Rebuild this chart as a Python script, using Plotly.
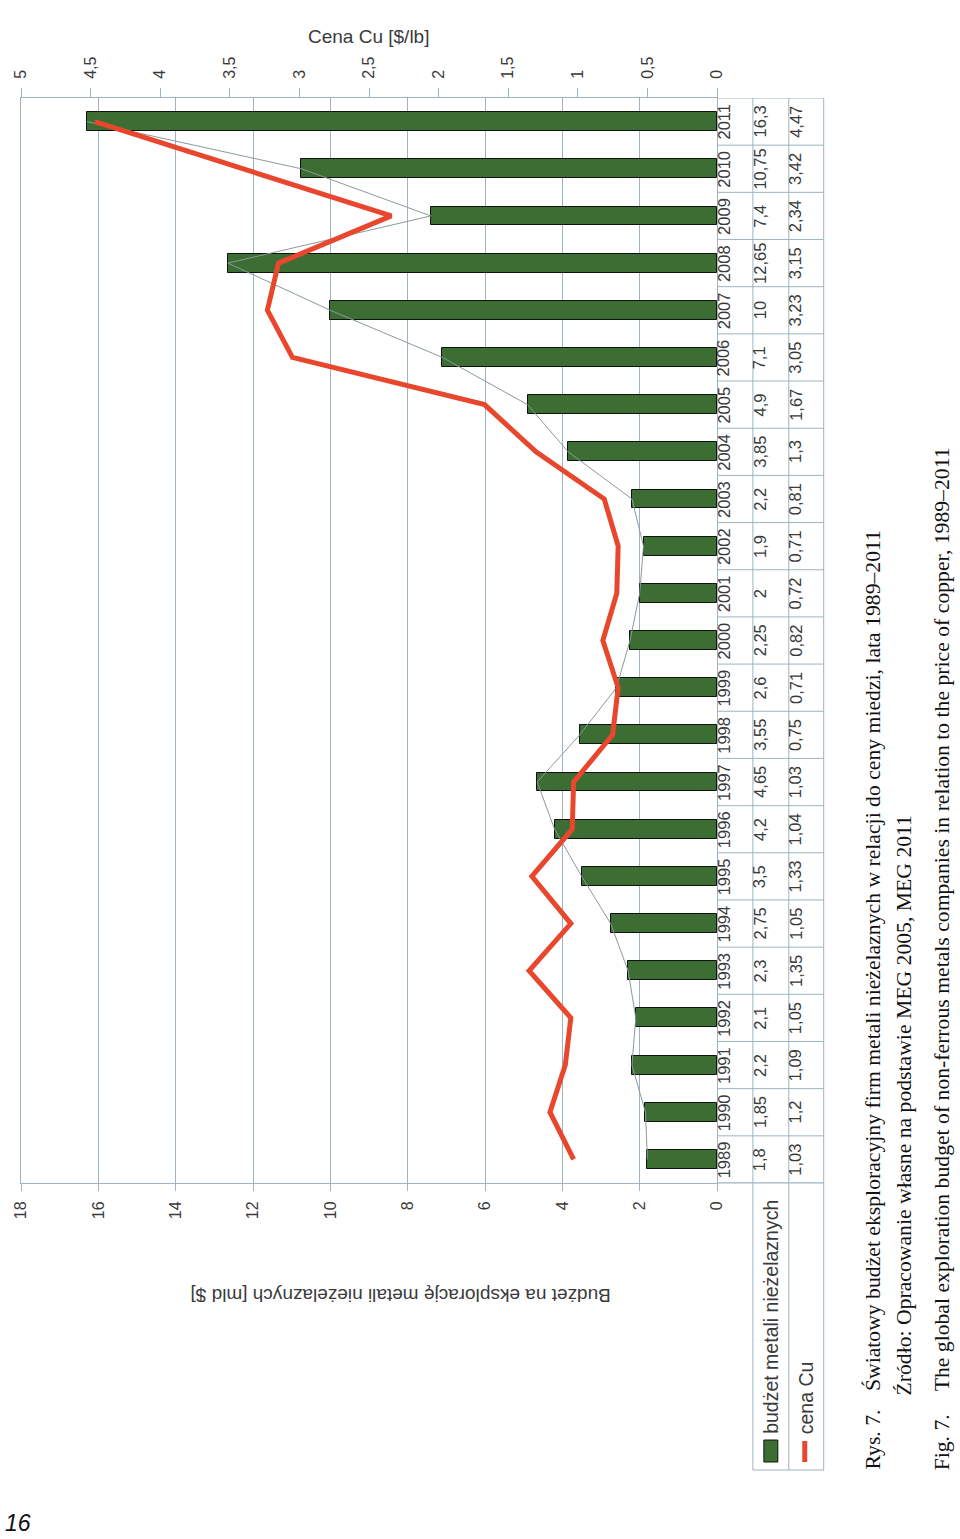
import plotly.graph_objects as go

# ---------------- data ----------------
years = [1989, 1990, 1991, 1992, 1993, 1994, 1995, 1996, 1997, 1998, 1999, 2000,
         2001, 2002, 2003, 2004, 2005, 2006, 2007, 2008, 2009, 2010, 2011]
budget = [1.8, 1.85, 2.2, 2.1, 2.3, 2.75, 3.5, 4.2, 4.65, 3.55, 2.6, 2.25,
          2, 1.9, 2.2, 3.85, 4.9, 7.1, 10, 12.65, 7.4, 10.75, 16.3]
price = [1.03, 1.2, 1.09, 1.05, 1.35, 1.05, 1.33, 1.04, 1.03, 0.75, 0.71, 0.82,
         0.72, 0.71, 0.81, 1.3, 1.67, 3.05, 3.23, 3.15, 2.34, 3.42, 4.47]

series_budget_name = "budżet metali nieżelaznych"
series_price_name = "cena Cu"
title_budget = "Budżet na eksplorację metali nieżelaznych [mld $]"
title_price = "Cena Cu [$/lb]"
cap_rys = "Rys. 7."
cap_line1 = "Światowy budżet eksploracyjny firm metali nieżelaznych w relacji do ceny miedzi, lata 1989–2011"
cap_line2 = "Źródło: Opracowanie własne na podstawie MEG 2005, MEG 2011"
cap_fig = "Fig. 7."
cap_line3 = "The global exploration budget of non-ferrous metals companies in relation to the price of copper, 1989–2011"
page_no = "16"

# ---------------- geometry helpers ----------------
W, H = 960, 1539
L, R, T, B = 19, 717, 98, 1183


def px2x(px):
    return (px - L) / (R - L)


def px2y(py):
    return (B - py) / (B - T)


GRID = "#9db3c2"
GREEN = "#3c6e34"
RED = "#e8472e"
TXT = "#3a3a3a"
SANS = "Liberation Sans, Arial, sans-serif"
SERIF = "Liberation Serif, Times New Roman, serif"
TABLE_FS = 16.5


def fmt(v):
    return ("%g" % v).replace(".", ",")


fig = go.Figure()

fig.add_trace(go.Bar(
    x=budget, y=years, orientation="h", width=0.4,
    marker=dict(color=GREEN, line=dict(color="#111111", width=1)),
    name=series_budget_name, showlegend=False,
))
fig.add_trace(go.Scatter(
    x=budget, y=years, mode="lines",
    line=dict(color="#8a9a9c", width=1),
    showlegend=False, hoverinfo="skip",
))
fig.add_trace(go.Scatter(
    x=price, y=years, mode="lines", xaxis="x2",
    line=dict(color=RED, width=5),
    name=series_price_name, showlegend=False,
))

annotations = []
shapes = []

# table text
for yr, b, p in zip(years, budget, price):
    for xp, txt in ((735, str(yr)), (771, fmt(b)), (806.5, fmt(p))):
        annotations.append(dict(xref="paper", yref="y", x=px2x(xp), y=yr, text=txt,
                                textangle=-90, showarrow=False,
                                font=dict(family=SANS, size=TABLE_FS, color=TXT)))

# table grid
for k in range(len(years) + 1):
    yb = years[0] - 0.5 + k
    shapes.append(dict(type="line", xref="paper", yref="y", x0=px2x(717), x1=px2x(824),
                       y0=yb, y1=yb, line=dict(color=GRID, width=1)))
for xp in (753, 789, 824):
    shapes.append(dict(type="line", xref="paper", yref="paper", x0=px2x(xp), x1=px2x(xp),
                       y0=px2y(T), y1=px2y(B), line=dict(color=GRID, width=1)))
    shapes.append(dict(type="line", xref="paper", yref="paper", x0=px2x(xp), x1=px2x(xp),
                       y0=px2y(B), y1=px2y(1470), line=dict(color=GRID, width=1)))
shapes.append(dict(type="line", xref="paper", yref="paper", x0=px2x(717), x1=px2x(824),
                   y0=px2y(B), y1=px2y(B), line=dict(color=GRID, width=1)))
shapes.append(dict(type="line", xref="paper", yref="paper", x0=px2x(753), x1=px2x(824),
                   y0=px2y(1470), y1=px2y(1470), line=dict(color=GRID, width=1)))

# legend in table header
shapes.append(dict(type="rect", xref="paper", yref="paper", x0=px2x(764), x1=px2x(778),
                   y0=px2y(1462), y1=px2y(1440), fillcolor=GREEN,
                   line=dict(color="#111111", width=1)))
shapes.append(dict(type="line", xref="paper", yref="paper", x0=px2x(805), x1=px2x(805),
                   y0=px2y(1462), y1=px2y(1441), line=dict(color=RED, width=5)))
annotations.append(dict(xref="paper", yref="paper", x=px2x(771), y=px2y(1436),
                        xanchor="center", yanchor="bottom", text=series_budget_name,
                        textangle=-90, showarrow=False,
                        font=dict(family=SANS, size=19.5, color=TXT)))
annotations.append(dict(xref="paper", yref="paper", x=px2x(806), y=px2y(1436),
                        xanchor="center", yanchor="bottom", text=series_price_name,
                        textangle=-90, showarrow=False,
                        font=dict(family=SANS, size=19.5, color=TXT)))

# axis titles
annotations.append(dict(xref="paper", yref="paper", x=px2x(367), y=px2y(24),
                        text=title_price, showarrow=False,
                        font=dict(family=SANS, size=19, color=TXT)))
annotations.append(dict(xref="paper", yref="paper", x=px2x(400), y=px2y(1308),
                        text=title_budget, textangle=180, showarrow=False,
                        font=dict(family=SANS, size=19, color=TXT)))

# captions
cap_font = dict(family=SERIF, size=21.7, color="#111111")
for txt, xp, yp in ((cap_rys, 873, 1472), (cap_line1, 873, 1393),
                    (cap_line2, 905, 1397), (cap_fig, 943, 1472), (cap_line3, 943, 1393)):
    annotations.append(dict(xref="paper", yref="paper", x=px2x(xp), y=px2y(yp),
                            xanchor="center", yanchor="bottom", text=txt,
                            textangle=-90, showarrow=False, font=cap_font))

annotations.append(dict(xref="paper", yref="paper", x=px2x(1), y=px2y(1538),
                        xanchor="left", yanchor="bottom", text="<i>" + page_no + "</i>",
                        showarrow=False, font=dict(family=SANS, size=23, color="#111111")))

fig.update_layout(
    width=W, height=H,
    margin=dict(l=L, r=W - R, t=T, b=H - B, pad=0),
    paper_bgcolor="white", plot_bgcolor="white",
    separators=", ",
    showlegend=False,
    bargap=0,
    xaxis=dict(range=[18, 0], dtick=2, tick0=0, side="bottom",
               showgrid=True, gridcolor=GRID, gridwidth=1,
               ticks="outside", ticklen=7, tickcolor=GRID, tickangle=-90,
               showline=True, linecolor=GRID, linewidth=1, zeroline=False,
               ticklabelstandoff=4,
               tickfont=dict(family=SANS, size=16, color=TXT)),
    xaxis2=dict(range=[5, 0], dtick=0.5, tick0=0, side="top", overlaying="x",
                showgrid=False, ticks="outside", ticklen=9, tickcolor=GRID,
                tickangle=-90, showline=True, linecolor=GRID, linewidth=1,
                zeroline=False, ticklabelstandoff=6,
                tickfont=dict(family=SANS, size=16, color=TXT)),
    yaxis=dict(range=[years[0] - 0.5, years[-1] + 0.5], showticklabels=False,
               showgrid=False, zeroline=False, ticks="",
               showline=True, mirror=True, linecolor=GRID, linewidth=1),
    annotations=annotations,
    shapes=shapes,
)

fig.write_html("out.html")
